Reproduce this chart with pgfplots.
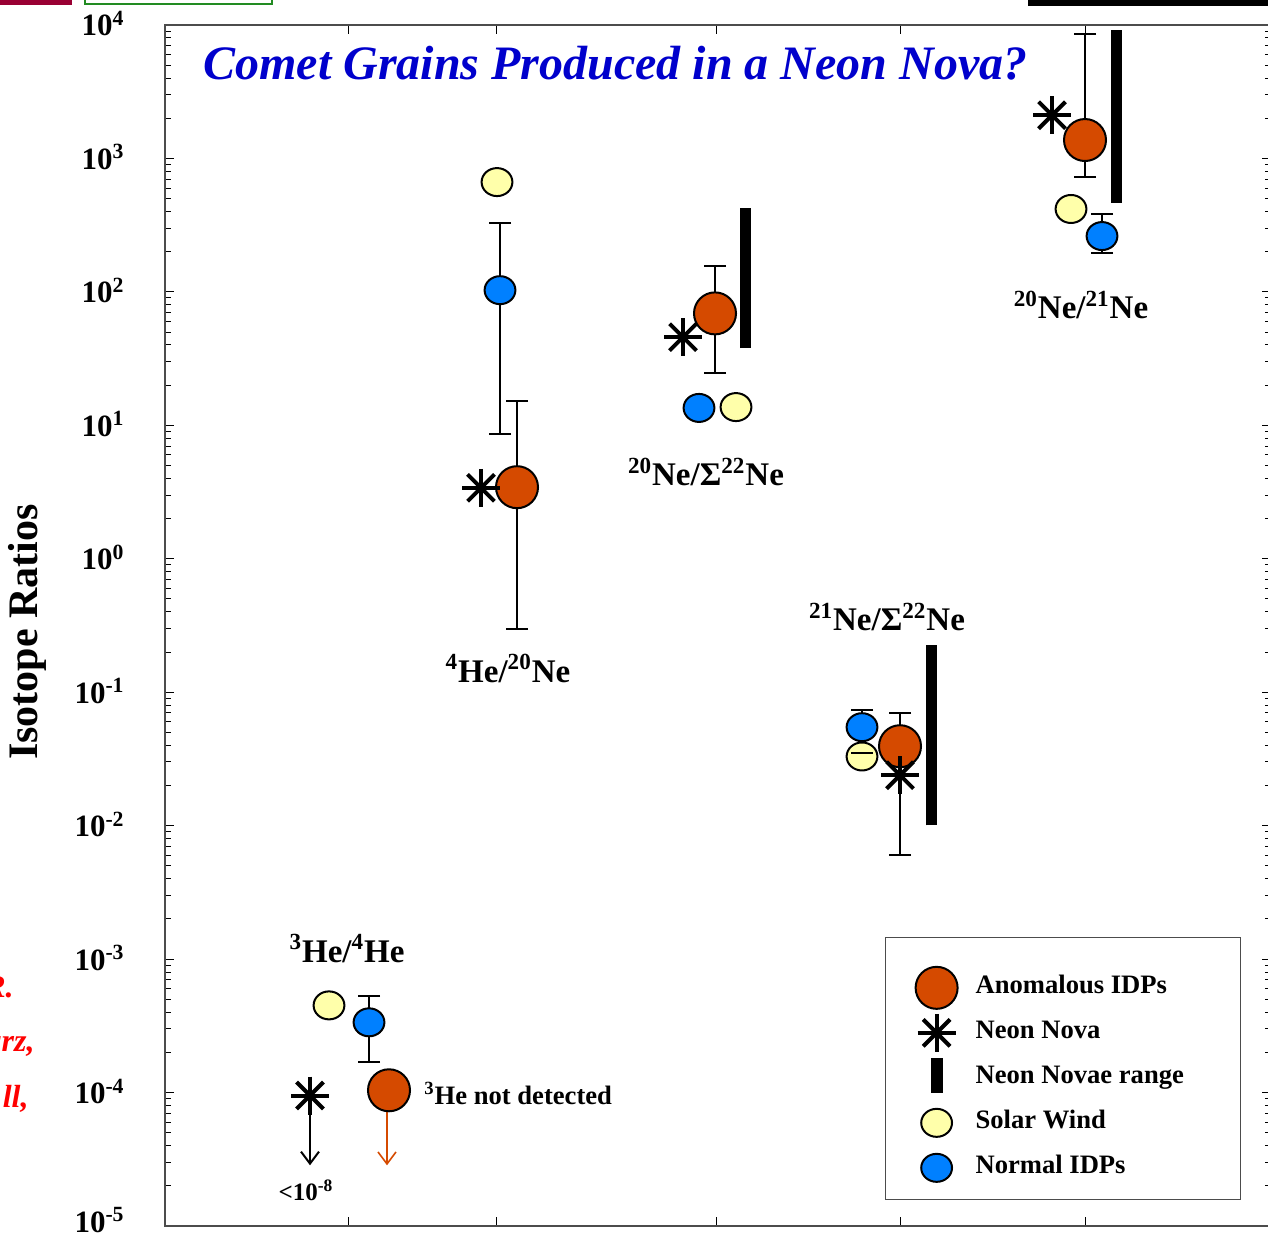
\documentclass[border=0pt]{standalone}
\usepackage{fontspec}
\setmainfont{Liberation Serif}
\usepackage{pgfplots}
\pgfplotsset{compat=1.18}
\usetikzlibrary{arrows.meta}

\definecolor{anom}{RGB}{213,74,0}
\definecolor{nidp}{RGB}{0,128,255}
\definecolor{swind}{RGB}{255,255,170}
\definecolor{ttlblue}{RGB}{0,0,204}
\definecolor{topred}{RGB}{153,0,51}
\definecolor{topgreen}{RGB}{34,139,34}

\pgfplotsset{
  anomalous/.style={only marks, mark=*, mark size=10.5pt, mark options={draw=black, fill=anom, line width=1pt}},
  normal/.style={only marks, mark=*, mark size=7pt, mark options={draw=black, fill=nidp, line width=1pt, xscale=1.1}},
  solar/.style={only marks, mark=*, mark size=7pt, mark options={draw=black, fill=swind, line width=1pt, xscale=1.1}},
  novaplus/.style={only marks, mark=+, mark size=9.5pt, mark options={black, line width=2pt}},
  novax/.style={only marks, mark=x, mark size=9.5pt, mark options={black, line width=2pt}},
  novarange/.style={black, line width=5.5pt, line cap=butt},
  errstem/.style={black, line width=1pt},
  errcap/.style={only marks, mark=-, mark size=5.5pt, mark options={black, line width=1pt}},
  markimg/.style={legend image code/.code={\path[draw=none, fill=none] (0pt,-7.5pt) rectangle (17pt,15pt);
      \draw[##1, overlay] plot coordinates {(8.5pt,-1pt)};}},
}
\newcommand\lbl{\fontsize{16.5}{16.5}\selectfont\bfseries}
\newcommand\lgtxt[1]{\makebox[115.5pt][l]{#1}}

\begin{document}
\begin{tikzpicture}
% cropped bits along the top edge
\fill[topred] (0pt,617.5pt) rectangle (36pt,621pt);
\draw[line width=1.2pt, topgreen] (42.5pt,618pt) rectangle (136pt,626pt);
\fill[black] (514pt,617pt) rectangle (640pt,621pt);
% cut-off red text at left
\begin{scope}[every node/.style={anchor=base east, inner sep=0pt, text=red, font=\fontsize{16}{16}\selectfont\bfseries\itshape}]
\node at (7pt,121pt) {R.};
\node at (17.5pt,94pt) {arz,};
\node at (14.5pt,66pt) {ll,};
\end{scope}

\begin{axis}[
  at={(82.5pt,7pt)}, anchor=south west,
  scale only axis, width=553pt, height=600.5pt,
  xmin=165, xmax=1271,
  ymode=log, ymin=1e-5, ymax=1e4,
  xtick={348,496,716,900,1085}, xticklabels={},
  ytick={1e-5,1e-4,1e-3,1e-2,1e-1,1,10,100,1000,10000},
  yticklabels={\raisebox{2.5pt}{10\textsuperscript{-5}},10\textsuperscript{-4},10\textsuperscript{-3},10\textsuperscript{-2},10\textsuperscript{-1},10\textsuperscript{0},10\textsuperscript{1},10\textsuperscript{2},10\textsuperscript{3},10\textsuperscript{4}},
  minor ytick={2e-5,3e-5,4e-5,5e-5,6e-5,7e-5,8e-5,9e-5,
    2e-4,3e-4,4e-4,5e-4,6e-4,7e-4,8e-4,9e-4,
    2e-3,3e-3,4e-3,5e-3,6e-3,7e-3,8e-3,9e-3,
    0.02,0.03,0.04,0.05,0.06,0.07,0.08,0.09,
    0.2,0.3,0.4,0.5,0.6,0.7,0.8,0.9,
    2,3,4,5,6,7,8,9,
    20,30,40,50,60,70,80,90,
    200,300,400,500,600,700,800,900,
    2000,3000,4000,5000,6000,7000,8000,9000},
  tick align=inside,
  major tick length=4.5pt, minor tick length=3pt,
  tick style={black, line width=0.5pt},
  axis line style={black!70, line width=0.6pt},
  yticklabel style={font=\fontsize{15.5}{15.5}\selectfont\bfseries, anchor=base east, inner sep=0pt, xshift=-20pt, yshift=-5.5pt},
  ylabel={Isotope Ratios},
  ylabel style={at={(rel axis cs:-0.1248,0.4946)}, anchor=center, font=\fontsize{21}{21}\selectfont\bfseries},
  clip=false,
  legend style={at={(rel axis cs:0.651,0.0217)}, anchor=south west, draw=black!70, line width=0.6pt,
    inner xsep=17pt, inner ysep=9.25pt, row sep=0pt, column sep=11pt, nodes={inner sep=0pt},
    font=\fontsize{13.3}{13.3}\selectfont\bfseries},
  legend cell align=left,
]
% neon novae ranges
\addplot[novarange, forget plot] coordinates {(745,37.9) (745,424)};
\addplot[novarange, forget plot] coordinates {(931,0.01007) (931,0.225)};
\addplot[novarange, forget plot] coordinates {(1116,464) (1116,9180)};

% error bars behind the circles
\addplot[errstem, forget plot] coordinates {(369,1.68e-4) (369,5.26e-4)};
\addplot[errstem, forget plot] coordinates {(500,8.6) (500,328)};
\addplot[errstem, forget plot] coordinates {(517,0.30) (517,15.2)};
\addplot[errstem, forget plot] coordinates {(715,24.6) (715,156)};
\addplot[errstem, forget plot] coordinates {(900,0.0394) (900,0.0697)};
\addplot[errstem, forget plot] coordinates {(1085,726) (1085,8570)};
\addplot[errstem, forget plot] coordinates {(1102,195) (1102,383)};
\addplot[errcap, forget plot] coordinates {(369,1.68e-4) (369,5.26e-4) (500,8.6) (500,328)
  (517,0.30) (517,15.2) (715,24.6) (715,156) (900,0.0697)
  (1085,726) (1085,8570) (1102,195) (1102,383)};

% 3He/4He upper limits
\addplot[black, line width=1pt, -{Straight Barb[length=6pt, width=9pt]}, forget plot] coordinates {(310,9.5e-5) (310,2.85e-5)};
\addplot[anom, line width=0.8pt, -{Straight Barb[length=6pt, width=9pt]}, forget plot] coordinates {(387,7.1e-5) (387,2.85e-5)};

% solar wind
\addplot[solar, forget plot] coordinates {(329,4.5e-4) (497,665) (736,13.7) (862,0.033) (1071,418)};
\addplot[errstem, forget plot] coordinates {(862,0.0349) (862,0.073)};
\addplot[errcap, forget plot] coordinates {(862,0.0349) (862,0.073)};
% normal IDPs
\addplot[normal, forget plot] coordinates {(369,3.36e-4) (500,103) (699,13.5) (862,0.0547) (1102,262)};
% neon nova behind the 20Ne/21Ne circle
\addplot[novaplus, forget plot] coordinates {(1052,2110)};
\addplot[novax, forget plot] coordinates {(1052,2110)};
% anomalous IDPs
\addplot[anomalous, forget plot] coordinates {(389,1.04e-4) (517,3.44) (715,69) (900,0.0394) (1085,1374)};
% neon nova
\addplot[novaplus, forget plot] coordinates {(310,9.5e-5) (481,3.4) (683,45.8) (900,0.0239)};
\addplot[novax, forget plot] coordinates {(310,9.5e-5) (481,3.4) (683,45.8) (900,0.0239)};
\addplot[errstem, forget plot] coordinates {(900,0.006) (900,0.0326)};
\addplot[errcap, forget plot] coordinates {(900,0.006)};

% group labels
\node[font=\lbl] at (axis cs:347,1.2e-3) {\textsuperscript{3}He/\textsuperscript{4}He};
\node[font=\lbl] at (axis cs:508,0.151) {\textsuperscript{4}He/\textsuperscript{20}Ne};
\node[font=\lbl] at (axis cs:706,4.46) {\textsuperscript{20}Ne/Σ\textsuperscript{22}Ne};
\node[font=\lbl] at (axis cs:887,0.365) {\textsuperscript{21}Ne/Σ\textsuperscript{22}Ne};
\node[font=\lbl] at (axis cs:1081,79.6) {\textsuperscript{20}Ne/\textsuperscript{21}Ne};
\node[anchor=west, inner sep=0pt, font=\fontsize{13.3}{13.3}\selectfont\bfseries] at (axis cs:424,9.86e-5) {\textsuperscript{3}He not detected};
\node[font=\fontsize{12.5}{12.5}\selectfont\bfseries] at (axis cs:306,1.85e-5) {<10\textsuperscript{-8}};

% legend
\addlegendimage{anomalous, markimg}
\addlegendentry{\lgtxt{Anomalous IDPs}}
\addlegendimage{legend image code/.code={\path[draw=none, fill=none] (0pt,-7.5pt) rectangle (17pt,15pt);
    \draw[overlay, black, line width=2pt, mark=+, mark size=9.5pt] plot coordinates {(8.5pt,-1pt)};
    \draw[overlay, black, line width=2pt, mark=x, mark size=9.5pt] plot coordinates {(8.5pt,-1pt)};}}
\addlegendentry{\lgtxt{Neon Nova}}
\addlegendimage{legend image code/.code={\path[draw=none, fill=none] (0pt,-7.5pt) rectangle (17pt,15pt);
    \draw[black, line width=6pt, overlay] (8.5pt,-8.5pt) -- (8.5pt,9pt);}}
\addlegendentry{\lgtxt{Neon Novae range}}
\addlegendimage{solar, markimg}
\addlegendentry{\lgtxt{Solar Wind}}
\addlegendimage{normal, markimg}
\addlegendentry{\lgtxt{Normal IDPs}}
\end{axis}

\node[anchor=base west, inner sep=0pt, text=ttlblue, font=\fontsize{24}{24}\selectfont\bfseries\itshape] at (101.5pt,580pt) {Comet Grains Produced in a Neon Nova?};

\pgfresetboundingbox
\path (0pt,0pt) rectangle (634pt,620pt);
\end{tikzpicture}
\end{document}
